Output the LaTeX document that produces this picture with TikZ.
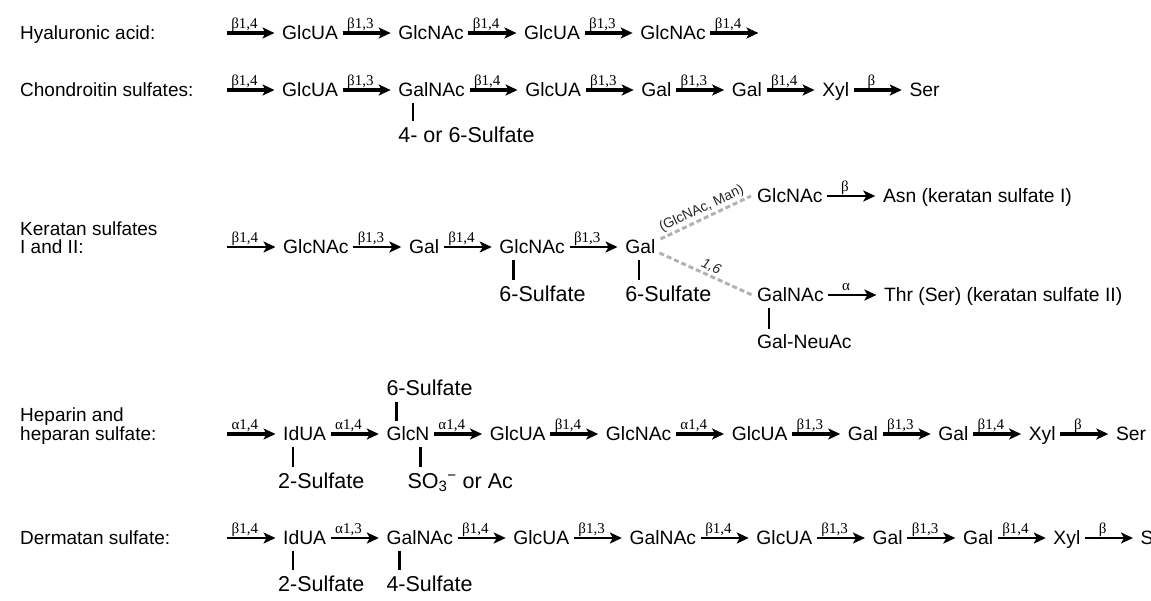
\documentclass[tikz,border=0pt]{standalone}
\usepackage{fontspec}
\setmainfont{Liberation Sans}
\newfontfamily\bondfont{Liberation Serif}
\usetikzlibrary{positioning,arrows.meta}

\tikzset{
  sug/.style={inner xsep=0pt,inner ysep=6pt,text height=13.8pt,text depth=0pt,
    font=\fontsize{19.3pt}{23pt}\selectfont},
  sub/.style={anchor=west,inner xsep=0pt,inner ysep=6pt,text height=15pt,text depth=0pt,
    font=\fontsize{21.5pt}{25pt}\selectfont},
  lab/.style={anchor=west,inner sep=0pt,text height=13.8pt,text depth=0pt,
    font=\fontsize{19pt}{23pt}\selectfont},
  bnd/.style={line width=3.2pt,-{Stealth[length=12pt,width=11pt,inset=3pt]},
    shorten <=4.5pt,shorten >=7.5pt},
  lightbnd/.style={line width=2.4pt},
  blab/.style={pos=0.37,anchor=base,yshift=5pt,inner sep=0pt,
    font=\bondfont\fontsize{15pt}{17pt}\selectfont},
  bar/.style={line width=2.6pt},
  br/.style={gray!60,line width=3pt,dash pattern=on 5pt off 3pt},
  brlab/.style={sloped,above,inner sep=1.5pt,text=black!85}
}
\newcommand{\bond}[4][]{\draw[bnd,#1] (#2) -- node[blab]{#4} (#3);}

\begin{document}
\begin{tikzpicture}[x=1pt,y=-1pt,node distance=60pt]
  \useasboundingbox (0,0) rectangle (1151,600);
  \clip (0,0) rectangle (1151,600);

  % 左侧名称
  \node[lab] (lh) at (20,33) {Hyaluronic acid:};
  \node[lab] (lc) at (20,90) {Chondroitin sulfates:};
  \node[lab] (lk1) at (20,229) {Keratan sulfates};
  \node[lab] (lk2) at (20,247) {I and II:};
  \node[lab] (lp1) at (20,415) {Heparin and};
  \node[lab] (lp2) at (20,434) {heparan sulfate:};
  \node[lab] (ld) at (20,538) {Dermatan sulfate:};

  % 透明质酸
  \coordinate (h0) at (222.5,33);
  \node[sug,anchor=west] (h1) at (282,33) {GlcUA};
  \node[sug,right=of h1] (h2) {GlcNAc};
  \node[sug,right=of h2] (h3) {GlcUA};
  \node[sug,right=of h3] (h4) {GlcNAc};
  \coordinate[right=of h4] (h5);
  \bond{h0}{h1.west}{β1,4}
  \bond{h1.east}{h2.west}{β1,3}
  \bond{h2.east}{h3.west}{β1,4}
  \bond{h3.east}{h4.west}{β1,3}
  \bond{h4.east}{h5}{β1,4}

  % 硫酸软骨素
  \coordinate (c0) at (222.5,90);
  \node[sug,anchor=west] (c1) at (282,90) {GlcUA};
  \node[sug,right=of c1] (c2) {GalNAc};
  \node[sug,right=of c2] (c3) {GlcUA};
  \node[sug,right=of c3] (c4) {Gal};
  \node[sug,right=of c4] (c5) {Gal};
  \node[sug,right=of c5] (c6) {Xyl};
  \node[sug,right=of c6] (c7) {Ser};
  \bond{c0}{c1.west}{β1,4}
  \bond{c1.east}{c2.west}{β1,3}
  \bond{c2.east}{c3.west}{β1,4}
  \bond{c3.east}{c4.west}{β1,3}
  \bond{c4.east}{c5.west}{β1,3}
  \bond{c5.east}{c6.west}{β1,4}
  \bond{c6.east}{c7.west}{β}
  \node[sub] (c2s) at ([yshift=-45pt]c2.west) {4- or 6-Sulfate};
  \draw[bar] ([xshift=15pt]c2.south west) -- ([xshift=15pt]c2.south west |- c2s.north);

  % 硫酸角质素
  \coordinate (k0) at (222.5,247);
  \node[sug,anchor=west] (k1) at (283,247) {GlcNAc};
  \node[sug,right=of k1] (k2) {Gal};
  \node[sug,right=of k2] (k3) {GlcNAc};
  \node[sug,right=of k3] (k4) {Gal};
  \bond[lightbnd]{k0}{k1.west}{β1,4}
  \bond[lightbnd]{k1.east}{k2.west}{β1,3}
  \bond[lightbnd]{k2.east}{k3.west}{β1,4}
  \bond[lightbnd]{k3.east}{k4.west}{β1,3}
  \node[sub] (k3s) at ([yshift=-47pt]k3.west) {6-Sulfate};
  \node[sub] (k4s) at ([yshift=-47pt]k4.west) {6-Sulfate};
  \draw[bar] ([xshift=14pt]k3.south west) -- ([xshift=14pt]k3.south west |- k3s.north);
  \draw[bar] ([xshift=14pt]k4.south west) -- ([xshift=14pt]k4.south west |- k4s.north);

  \node[sug,anchor=west] (ku) at (757,196) {GlcNAc};
  \node[sug,right=of ku] (kua) {Asn (keratan sulfate I)};
  \node[sug,anchor=west] (kl) at (757,295) {GalNAc};
  \node[sug,right=of kl] (kla) {Thr (Ser) (keratan sulfate II)};
  \bond[lightbnd]{ku.east}{kua.west}{β}
  \bond[lightbnd]{kl.east}{kla.west}{α}
  \node[sug,anchor=west] (kls) at ([yshift=-47pt]kl.west) {Gal-NeuAc};
  \draw[bar] ([xshift=12pt]kl.south west) -- ([xshift=12pt]kl.south west |- kls.north);

  \draw[br] ([shift={(5pt,8pt)}]k4.east) --
    node[brlab,pos=0.5,font=\fontsize{14pt}{16pt}\selectfont]{(GlcNAc, Man)} ([xshift=-6pt]ku.west);
  \draw[br] ([shift={(4pt,-6pt)}]k4.east) --
    node[brlab,pos=0.52,font=\itshape\fontsize{14pt}{16pt}\selectfont]{1,6} ([xshift=-5pt]kl.west);

  % 肝素和硫酸乙酰肝素
  \coordinate (p0) at (222.5,434);
  \node[sug,anchor=west] (p1) at (283,434) {IdUA};
  \node[sug,right=of p1] (p2) {GlcN};
  \node[sug,right=of p2] (p3) {GlcUA};
  \node[sug,right=of p3] (p4) {GlcNAc};
  \node[sug,right=of p4] (p5) {GlcUA};
  \node[sug,right=of p5] (p6) {Gal};
  \node[sug,right=of p6] (p7) {Gal};
  \node[sug,right=of p7] (p8) {Xyl};
  \node[sug,right=of p8] (p9) {Ser};
  \bond{p0}{p1.west}{α1,4}
  \bond{p1.east}{p2.west}{α1,4}
  \bond{p2.east}{p3.west}{α1,4}
  \bond{p3.east}{p4.west}{β1,4}
  \bond{p4.east}{p5.west}{α1,4}
  \bond{p5.east}{p6.west}{β1,3}
  \bond{p6.east}{p7.west}{β1,3}
  \bond{p7.east}{p8.west}{β1,4}
  \bond{p8.east}{p9.west}{β}
  \node[sub] (p1s) at ([shift={(-5pt,-47pt)}]p1.west) {2-Sulfate};
  \node[sub] (p2b) at ([shift={(21pt,-47pt)}]p2.west) {SO\textsubscript{3}\textsuperscript{−} or Ac};
  \node[sub] (p2t) at ([yshift=46pt]p2.west) {6-Sulfate};
  \draw[bar] ([xshift=10pt]p1.south west) -- ([xshift=10pt]p1.south west |- p1s.north);
  \draw[bar] ([xshift=34pt]p2.south west) -- ([xshift=34pt]p2.south west |- p2b.north);
  \draw[bar] ([xshift=10pt]p2.north west) -- ([xshift=10pt]p2.north west |- p2t.south);

  % 硫酸皮肤素
  \coordinate (d0) at (222.5,538);
  \node[sug,anchor=west] (d1) at (283,538) {IdUA};
  \node[sug,right=of d1] (d2) {GalNAc};
  \node[sug,right=of d2] (d3) {GlcUA};
  \node[sug,right=of d3] (d4) {GalNAc};
  \node[sug,right=of d4] (d5) {GlcUA};
  \node[sug,right=of d5] (d6) {Gal};
  \node[sug,right=of d6] (d7) {Gal};
  \node[sug,right=of d7] (d8) {Xyl};
  \node[sug,right=of d8] (d9) {Ser};
  \bond[lightbnd]{d0}{d1.west}{β1,4}
  \bond[lightbnd]{d1.east}{d2.west}{α1,3}
  \bond[lightbnd]{d2.east}{d3.west}{β1,4}
  \bond[lightbnd]{d3.east}{d4.west}{β1,3}
  \bond[lightbnd]{d4.east}{d5.west}{β1,4}
  \bond[lightbnd]{d5.east}{d6.west}{β1,3}
  \bond[lightbnd]{d6.east}{d7.west}{β1,3}
  \bond[lightbnd]{d7.east}{d8.west}{β1,4}
  \bond[lightbnd]{d8.east}{d9.west}{β}
  \node[sub] (d1s) at ([shift={(-5pt,-46pt)}]d1.west) {2-Sulfate};
  \node[sub] (d2s) at ([yshift=-46pt]d2.west) {4-Sulfate};
  \draw[bar] ([xshift=10pt]d1.south west) -- ([xshift=10pt]d1.south west |- d1s.north);
  \draw[bar] ([xshift=13pt]d2.south west) -- ([xshift=13pt]d2.south west |- d2s.north);
\end{tikzpicture}
\end{document}
